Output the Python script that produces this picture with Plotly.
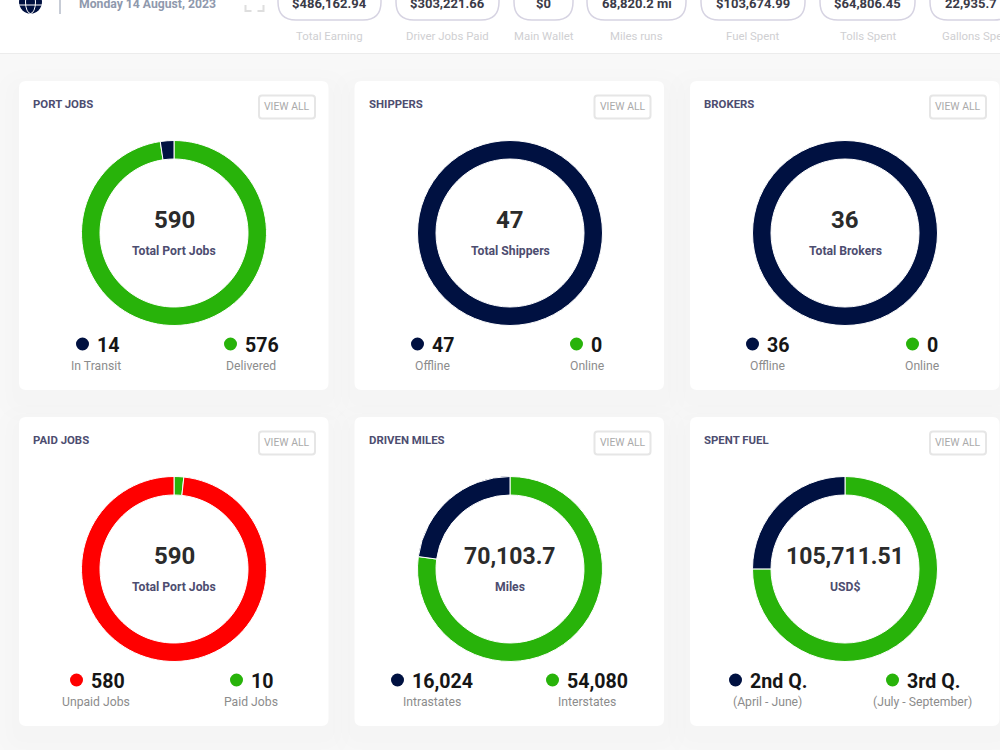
import plotly.graph_objects as go

NAVY = "#001141"
GREEN = "#28b30a"
RED = "#ff0000"

# Donut cards, in reading order
card_titles = ["PORT JOBS", "SHIPPERS", "BROKERS", "PAID JOBS", "DRIVEN MILES", "SPENT FUEL"]
center_values = ["590", "47", "36", "590", "70,103.7", "105,711.51"]
center_labels = ["Total Port Jobs", "Total Shippers", "Total Brokers", "Total Port Jobs", "Miles", "USD$"]
left_values = ["14", "47", "36", "580", "16,024", "2nd Q."]
left_labels = ["In Transit", "Offline", "Offline", "Unpaid Jobs", "Intrastates", "(April - June)"]
right_values = ["576", "0", "0", "10", "54,080", "3rd Q."]
right_labels = ["Delivered", "Online", "Online", "Paid Jobs", "Interstates", "(July - September)"]
left_colors = [NAVY, NAVY, NAVY, RED, NAVY, NAVY]

# Slices run clockwise from twelve o'clock
slice_values = [
    [576, 14],
    [0, 47],
    [0, 36],
    [10, 580],
    [54080, 16024],
    [79300, 26411.51],
]
slice_colors = [
    [GREEN, NAVY],
    [GREEN, NAVY],
    [GREEN, NAVY],
    [GREEN, RED],
    [GREEN, NAVY],
    [GREEN, NAVY],
]
slice_names = [
    ["Delivered", "In Transit"],
    ["Online", "Offline"],
    ["Online", "Offline"],
    ["Paid Jobs", "Unpaid Jobs"],
    ["Interstates", "Intrastates"],
    ["3rd Q.", "2nd Q."],
]

# Header strip
header_values = ["$486,162.94", "$303,221.66", "$0", "68,820.2 mi", "$103,674.99", "$64,806.45", "22,935.7"]
header_labels = ["Total Earning", "Driver Jobs Paid", "Main Wallet", "Miles runs", "Fuel Spent", "Tolls Spent", "Gallons Spent"]
header_pills = [(278, 381), (396, 499), (514, 573), (587, 686), (701, 805), (820, 915), (930, 1012)]
header_label_x = [329.5, 447.5, 543.5, 636.5, 752.5, 867.5, 976.5]
header_date = "Monday 14 August, 2023"

W, H = 1000, 750
CARD_X = [19, 354.5, 690]
CARD_Y = [81, 417]
RING_X = [174, 510, 845]
CARD_W, CARD_H = 309.5, 309
FONT = "Roboto, sans-serif"

# Where each legend figure starts, measured from the ring's centre
left_text_x = [-77, -78, -78, -83, -98, -95]
right_text_x = [71, 81, 82, 77, 57, 62]


def px(x):
    return x / W


def py(y):
    return 1 - y / H


def rounded(x0, y0, x1, y1, r):
    return (
        f"M{px(x0 + r)},{py(y0)} L{px(x1 - r)},{py(y0)} Q{px(x1)},{py(y0)} {px(x1)},{py(y0 + r)} "
        f"L{px(x1)},{py(y1 - r)} Q{px(x1)},{py(y1)} {px(x1 - r)},{py(y1)} "
        f"L{px(x0 + r)},{py(y1)} Q{px(x0)},{py(y1)} {px(x0)},{py(y1 - r)} "
        f"L{px(x0)},{py(y0 + r)} Q{px(x0)},{py(y0)} {px(x0 + r)},{py(y0)} Z"
    )


def box(x0, y0, x1, y1, r, fill="rgba(0,0,0,0)", line=None, width=0):
    return dict(
        type="path", xref="paper", yref="paper", path=rounded(x0, y0, x1, y1, r),
        fillcolor=fill, line=dict(color=line or "rgba(0,0,0,0)", width=width), layer="below",
    )


def ellipse(cx, cy, rx, ry, fill, outline=None):
    return dict(
        type="circle", xref="paper", yref="paper", x0=px(cx - rx), x1=px(cx + rx),
        y0=py(cy + ry), y1=py(cy - ry), fillcolor=fill,
        line=dict(width=1 if outline else 0, color=outline or "rgba(0,0,0,0)"), layer="above",
    )


def label(x, y, text, size, color, weight=400, anchor="center"):
    return dict(
        x=px(x), y=py(y), xref="paper", yref="paper", text=text, showarrow=False,
        xanchor=anchor, yanchor="middle",
        font=dict(family=FONT, size=size, color=color, weight=weight),
    )


fig = go.Figure()
shapes, notes = [], []

# Top bar
shapes.append(dict(type="rect", xref="paper", yref="paper", x0=0, x1=1, y0=py(54), y1=1,
                   fillcolor="white", line=dict(width=0), layer="below"))
shapes.append(dict(type="line", xref="paper", yref="paper", x0=0, x1=1, y0=py(53.5), y1=py(53.5),
                   line=dict(color="#ececec", width=1), layer="below"))

# Globe mark and divider
shapes.append(ellipse(30.5, 2, 11.5, 11.5, NAVY))
shapes.append(ellipse(30.5, 2, 5, 11.5, "rgba(0,0,0,0)", "white"))
shapes.append(dict(type="line", xref="paper", yref="paper", x0=px(19), x1=px(42), y0=py(5), y1=py(5),
                   line=dict(color="white", width=1)))
shapes.append(dict(type="line", xref="paper", yref="paper", x0=px(60), x1=px(60), y0=py(14), y1=1,
                   line=dict(color="#8f99ad", width=1)))
notes.append(label(147.5, 4, header_date, 12.2, "#8f99ad", 700))

# Fullscreen corners
for cx, sign in ((245.5, 1), (263.5, -1)):
    shapes.append(dict(type="path", xref="paper", yref="paper",
                       path=f"M{px(cx)},{py(5)} L{px(cx)},{py(11)} L{px(cx + sign * 6)},{py(11)}",
                       line=dict(color="#dedede", width=2), fillcolor="rgba(0,0,0,0)"))

for (x0, x1), value, name, name_x in zip(header_pills, header_values, header_labels, header_label_x):
    shapes.append(box(x0, -30, x1, 20, 18, "white", "#d6d3e2", 1.5))
    notes.append(label((x0 + x1) / 2, 4, value, 13, "#3b3b48", 700))
    notes.append(label(name_x, 36, name, 11.4, "#cfcfd2"))

for i in range(6):
    cx0 = CARD_X[i % 3]
    cy0 = CARD_Y[i // 3]
    mid_x = RING_X[i % 3]
    mid_y = cy0 + 152

    # Soft card shadow, then the card itself
    for spread, alpha in ((22, 0.003), (14, 0.004), (7, 0.005)):
        shapes.append(box(cx0 - spread, cy0 - spread + 10, cx0 + CARD_W + spread, cy0 + CARD_H + spread + 10,
                          8 + spread, f"rgba(0,0,0,{alpha})"))
    shapes.append(box(cx0, cy0, cx0 + CARD_W, cy0 + CARD_H, 7, "white"))

    notes.append(label(cx0 + 12, cy0 + 23, card_titles[i], 11.4, "#4d4d70", 700, "left"))

    shapes.append(box(cx0 + 240, cy0 + 14.5, cx0 + 296, cy0 + 37.5, 3, "white", "#e6e6e6", 2))
    notes.append(label(cx0 + 268, cy0 + 25.5, "VIEW ALL", 10.4, "#aaaaaa"))

    fig.add_trace(go.Pie(
        labels=slice_names[i],
        values=slice_values[i],
        marker=dict(colors=slice_colors[i], line=dict(color="white", width=1)),
        hole=0.80,
        sort=False,
        direction="clockwise",
        rotation=0,
        textinfo="none",
        showlegend=False,
        domain=dict(x=[px(mid_x - 92.5), px(mid_x + 92.5)], y=[py(mid_y + 92.5), py(mid_y - 92.5)]),
    ))

    big = 23 if len(center_values[i]) > 3 else 24
    notes.append(label(mid_x, cy0 + 139, center_values[i], big, "#2b2b2b", 700))
    notes.append(label(mid_x, cy0 + 170, center_labels[i], 12.2, "#4d4d70", 700))

    # Legend columns under the ring
    for value, name, color, text_x, name_x in (
        (left_values[i], left_labels[i], left_colors[i], left_text_x[i], -78),
        (right_values[i], right_labels[i], GREEN, right_text_x[i], 77),
    ):
        shapes.append(ellipse(mid_x + text_x - 14.5, cy0 + 263, 6.5, 6.5, color))
        notes.append(label(mid_x + text_x - 2, cy0 + 264, value, 19.6, "#161616", 700, "left"))
        notes.append(label(mid_x + name_x, cy0 + 285, name, 12.2, "#8c8c8c"))

fig.update_layout(
    width=W, height=H, autosize=False,
    margin=dict(l=0, r=0, t=0, b=0),
    paper_bgcolor="#f8f8f8", plot_bgcolor="#f8f8f8",
    shapes=shapes, annotations=notes,
    font=dict(family=FONT),
)
fig.write_html("out.html", config=dict(displayModeBar=False))
